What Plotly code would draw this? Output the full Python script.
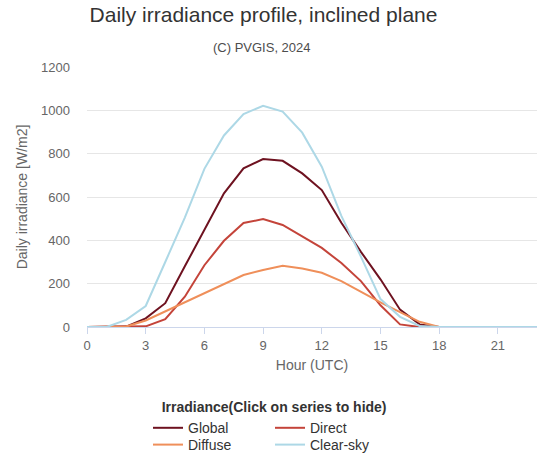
import plotly.graph_objects as go

hours = list(range(24))
global_irr = [0, 0, 2, 40, 110, 280, 450, 617, 732, 775, 767, 709, 632, 481, 347, 220, 80, 12, 0, 0, 0, 0, 0, 0]
direct_irr = [0, 0, 0, 3, 36, 140, 285, 398, 480, 498, 471, 417, 365, 295, 212, 100, 12, 0, 0, 0, 0, 0, 0, 0]
diffuse_irr = [0, 0, 2, 30, 72, 112, 155, 196, 240, 263, 283, 270, 250, 212, 162, 114, 69, 24, 0, 0, 0, 0, 0, 0]
clearsky_irr = [0, 0, 33, 97, 300, 505, 730, 884, 983, 1021, 994, 897, 740, 513, 325, 129, 47, 5, 0, 0, 0, 0, 0, 0]

x_ticks = [0, 3, 6, 9, 12, 15, 18, 21]
y_ticks = [0, 200, 400, 600, 800, 1000, 1200]

FONT = "Liberation Sans, Arial, sans-serif"

fig = go.Figure()
series = [
    ("Global", global_irr, "#6e1220", "legend"),
    ("Direct", direct_irr, "#c4443a", "legend"),
    ("Diffuse", diffuse_irr, "#ef8f5a", "legend2"),
    ("Clear-sky", clearsky_irr, "#add8e6", "legend2"),
]
for name, vals, color, lg in series:
    fig.add_trace(go.Scatter(x=hours, y=vals, mode="lines", name=name,
                             line=dict(color=color, width=2), legend=lg))

fig.update_layout(
    width=541, height=473,
    margin=dict(l=87, r=4, t=67, b=146),
    paper_bgcolor="white", plot_bgcolor="white",
    font=dict(family=FONT, color="#666666", size=13),
    title=dict(text="Daily irradiance profile, inclined plane",
               x=263.5 / 541, xref="container", xanchor="center",
               y=1 - 15 / 473, yref="container", yanchor="middle",
               font=dict(size=21, color="#333333", family=FONT)),
    annotations=[dict(text="(C) PVGIS, 2024", xref="paper", yref="paper",
                      x=(262 - 87) / 450, y=(327.3 - 47) / 260.3, xanchor="center", yanchor="middle",
                      showarrow=False, font=dict(size=13, color="#4d4d4d", family=FONT))],
    xaxis=dict(range=[0, 23], tickvals=x_ticks, ticktext=[str(t) for t in x_ticks],
               showgrid=False, zeroline=False, showline=True, linecolor="#ccd6eb", linewidth=1,
               ticks="outside", ticklen=6, tickcolor="#ccd6eb",
               tickfont=dict(size=13, color="#666666"),
               title=dict(text="Hour (UTC)", font=dict(size=14, color="#666666"), standoff=8)),
    yaxis=dict(range=[0, 1200], tickvals=y_ticks, ticktext=[str(t) for t in y_ticks],
               showgrid=True, gridcolor="#e6e6e6", gridwidth=1, zeroline=False, showline=False,
               ticks="", ticklabelstandoff=16,
               tickfont=dict(size=13, color="#666666"),
               title=dict(text="Daily irradiance [W/m2]", font=dict(size=14, color="#666666"), standoff=10)),
    legend=dict(orientation="h", xref="container", yref="container",
                x=148 / 541, xanchor="left", y=1 - 394 / 473, yanchor="top",
                entrywidth=77, entrywidthmode="pixels",
                title=dict(text="<b>\u00a0\u00a0\u00a0Irradiance(Click on series to hide)</b>", side="top",
                           font=dict(size=14, color="#333333")),
                font=dict(size=14, color="#333333"),
                bgcolor="rgba(0,0,0,0)", itemclick="toggle"),
    legend2=dict(orientation="h", xref="container", yref="container",
                 x=148 / 541, xanchor="left", y=1 - 429 / 473, yanchor="top",
                 entrywidth=77, entrywidthmode="pixels",
                 font=dict(size=14, color="#333333"),
                 bgcolor="rgba(0,0,0,0)"),
    showlegend=True,
)

fig.write_html("out.html")
